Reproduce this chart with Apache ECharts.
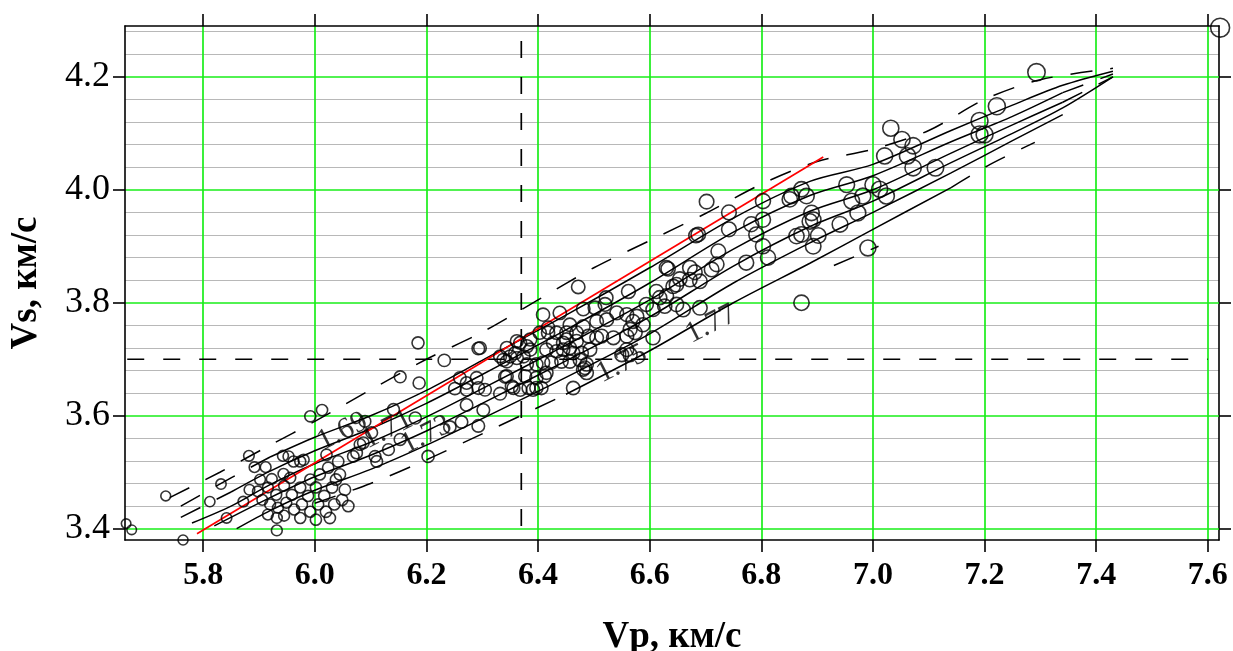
<!DOCTYPE html>
<html>
<head>
<meta charset="utf-8">
<script src="https://cdn.jsdelivr.net/npm/echarts@6/dist/echarts.min.js"></script>
<style>
html,body{margin:0;padding:0;background:#fff;}
#chart{width:1233px;height:651px;}
</style>
</head>
<body>
<div id="chart"></div>
<script>
// ---------- DATA ----------
const vpTicks = [5.8, 6.0, 6.2, 6.4, 6.6, 6.8, 7.0, 7.2, 7.4, 7.6];
const vsTicks = [3.4, 3.6, 3.8, 4.0, 4.2];
const vsMinorTicks = [3.44, 3.48, 3.52, 3.56, 3.64, 3.68, 3.72, 3.76, 3.84, 3.88, 3.92, 3.96, 4.04, 4.08, 4.12, 4.16, 4.24, 4.28];
const vpRange = [5.66, 7.62];
const vsRange = [3.38, 4.29];

const xTitle = 'Vp, км/с';
const yTitle = 'Vs, км/с';

// Measured samples (Vp, Vs)
const sampleVp = [
5.662,5.672,5.733,5.764,5.812,5.832,5.842,5.882,5.892,5.912,5.923,5.943,5.953,5.944,5.872,5.883,5.932,5.932,5.992,6.013,
6.153,6.185,6.187,6.180,6.141,6.090,6.102,6.069,6.042,6.081,6.111,6.132,6.153,6.045,6.060,5.962,5.974,5.992,
5.902,5.916,5.931,5.945,5.959,5.974,5.988,6.002,6.017,6.031,5.906,5.920,5.934,5.949,5.963,5.977,5.992,6.006,6.020,6.035,6.049,
5.916,5.945,5.974,6.002,6.027,5.956,6.009,6.024,6.038,5.898,6.054,
6.232,6.293,6.203,6.242,6.263,6.293,6.302,6.272,6.332,6.251,6.272,6.293,6.305,6.260,6.290,6.272,6.356,6.368,6.397,6.406,
6.463,6.344,6.350,6.362,6.374,6.380,6.397,6.409,6.412,6.397,6.377,6.418,6.433,6.451,6.469,6.427,6.445,6.463,6.478,6.484,
6.505,6.514,6.535,6.559,6.574,6.606,6.550,6.565,6.559,6.368,6.380,6.341,6.338,6.359,6.383,6.108,6.075,6.087,6.021,5.980,
6.472,6.633,6.681,6.687,6.654,6.672,6.642,6.648,6.690,6.562,6.522,6.612,6.618,6.594,6.606,6.627,6.648,6.660,6.690,
6.409,6.439,6.481,6.502,6.520,6.541,6.559,6.577,6.505,6.523,6.570,6.588,6.565,6.490,6.451,6.469,6.418,6.457,6.481,
6.386,6.362,6.403,6.344,6.332,6.386,6.424,6.442,6.457,6.475,6.487,6.493,6.445,6.457,6.415,6.433,6.481,6.487,6.415,
6.344,6.353,6.391,6.296,
6.702,6.742,6.683,6.742,6.723,6.720,6.711,6.672,6.630,6.773,6.782,6.791,6.803,6.803,6.803,6.812,6.851,6.854,6.872,6.881,
6.890,6.893,6.887,6.863,6.872,6.902,6.893,6.872,6.941,6.953,6.962,6.973,6.982,7.000,7.012,7.024,6.991,7.021,
7.293,7.222,7.191,7.191,7.200,7.032,7.052,7.072,7.062,7.072,7.112,7.622,6.630
];
const sampleVs = [
3.409,3.398,3.458,3.380,3.448,3.479,3.419,3.529,3.509,3.509,3.488,3.529,3.528,3.497,3.448,3.469,3.397,3.419,3.599,3.610,
3.669,3.729,3.658,3.596,3.611,3.590,3.570,3.528,3.519,3.549,3.519,3.540,3.558,3.496,3.440,3.519,3.519,3.487,
3.487,3.473,3.460,3.476,3.460,3.473,3.458,3.473,3.458,3.473,3.451,3.443,3.437,3.446,3.434,3.443,3.430,3.443,3.430,3.443,3.451,
3.425,3.423,3.419,3.416,3.419,3.490,3.496,3.508,3.487,3.466,3.469,
3.698,3.719,3.528,3.580,3.589,3.582,3.610,3.619,3.639,3.648,3.646,3.649,3.646,3.667,3.667,3.658,3.649,3.646,3.649,3.649,
3.649,3.696,3.705,3.702,3.705,3.691,3.691,3.694,3.670,3.667,3.670,3.747,3.747,3.747,3.747,3.729,3.729,3.711,3.711,3.685,
3.738,3.741,3.738,3.741,3.747,3.738,3.708,3.708,3.717,3.729,3.723,3.669,3.699,3.711,3.649,3.528,3.534,3.552,3.531,3.522,
3.828,3.860,3.854,3.921,3.842,3.841,3.829,3.832,3.838,3.820,3.809,3.820,3.809,3.797,3.788,3.794,3.797,3.788,3.791,
3.779,3.782,3.789,3.791,3.797,3.782,3.779,3.776,3.767,3.770,3.767,3.761,3.753,3.741,3.735,3.732,3.756,3.761,3.758,
3.735,3.732,3.747,3.720,3.705,3.717,3.694,3.696,3.696,3.699,3.691,3.717,3.717,3.720,3.717,3.714,3.682,3.676,3.676,
3.670,3.652,3.646,3.720,
3.979,3.960,3.919,3.930,3.891,3.868,3.859,3.862,3.862,3.871,3.939,3.921,3.980,3.947,3.900,3.880,3.983,3.989,4.001,3.989,
3.959,3.947,3.944,3.918,3.921,3.919,3.900,3.800,3.939,4.009,3.980,3.959,3.989,4.009,4.001,3.989,3.897,4.060,
4.208,4.148,4.122,4.098,4.098,4.109,4.089,4.078,4.060,4.039,4.039,4.287,3.812
];

// Regression line end points (Vp, Vs)
const regressionVp = [5.789, 6.911];
const regressionVs = [3.391, 4.058];

// Reference (dashed) values
const refVp = 6.37;
const refVs = 3.70;
const refVpSpan = [3.405, 4.282];   // Vs extent of the vertical reference
const refVsSpan = [5.664, 7.600];   // Vp extent of the horizontal reference

// Iso-lines (Vp, Vs) with solid index range
const isoLine0 = [[5.74,3.455],[5.83,3.50],[5.92,3.548],[6.0,3.59],[6.1,3.646],[6.2,3.70],[6.3,3.748],[6.4,3.805],[6.5,3.862],[6.6,3.91],[6.7,3.958],[6.8,4.01],[6.9,4.05],[7.0,4.072],[7.1,4.105],[7.2,4.16],[7.3,4.195],[7.43,4.215]];
const isoLine1 = [[5.76,3.44],[5.85,3.49],[5.92,3.527],[6.0,3.562],[6.1,3.60],[6.2,3.645],[6.3,3.698],[6.45,3.778],[6.6,3.862],[6.75,3.95],[6.887,4.015],[7.0,4.045],[7.14,4.105],[7.25,4.15],[7.34,4.185],[7.43,4.21]];
const isoLine2 = [[5.76,3.42],[5.85,3.465],[5.92,3.502],[6.0,3.538],[6.1,3.577],[6.2,3.622],[6.3,3.673],[6.45,3.752],[6.6,3.835],[6.75,3.925],[6.887,3.99],[7.0,4.025],[7.14,4.085],[7.25,4.13],[7.34,4.172],[7.43,4.205]];
const isoLine3 = [[5.78,3.41],[5.85,3.44],[5.92,3.478],[6.0,3.515],[6.1,3.553],[6.2,3.598],[6.3,3.648],[6.45,3.725],[6.6,3.805],[6.75,3.895],[6.887,3.962],[7.0,4.0],[7.14,4.065],[7.25,4.115],[7.34,4.155],[7.43,4.20]];
const isoLine4 = [[5.82,3.405],[5.92,3.455],[6.0,3.492],[6.1,3.53],[6.2,3.573],[6.3,3.622],[6.45,3.697],[6.6,3.775],[6.75,3.865],[6.887,3.935],[7.0,3.98],[7.14,4.048],[7.25,4.10],[7.34,4.145],[7.43,4.20]];
const isoLine5 = [[5.86,3.40],[5.92,3.432],[6.0,3.468],[6.1,3.505],[6.2,3.548],[6.3,3.595],[6.45,3.668],[6.6,3.745],[6.75,3.835],[6.887,3.906],[7.0,3.96],[7.14,4.03],[7.25,4.087],[7.34,4.133]];
const isoLine6 = [[6.0,3.445],[6.1,3.48],[6.2,3.522],[6.3,3.568],[6.45,3.638],[6.6,3.715],[6.75,3.80],[6.887,3.87],[7.0,3.93],[7.14,4.004],[7.21,4.045],[7.29,4.084]];
const isoLine7 = [[6.93,3.866],[7.01,3.900]];
const isoSolidIdx = [null, [2,15], [1,14], [0,14], [0,14], [0,13], [4,9], null];

// Iso-line labels
const isoLabelText = ['1.69', '1.71', '1.73', '1.75', '1.77'];
const isoLabelVp = [6.05, 6.13, 6.20, 6.55, 6.71];
const isoLabelVs = [3.572, 3.575, 3.566, 3.692, 3.762];

// ---------- CHART ----------
const SERIF = "'Liberation Serif', 'DejaVu Serif', serif";
const chart = echarts.init(document.getElementById('chart'), null, {renderer: 'canvas'});

const series = [];
const isoLines = [isoLine0, isoLine1, isoLine2, isoLine3, isoLine4, isoLine5, isoLine6, isoLine7];
const dashPattern = [22, 18];
function addLine(data, dashed, width) {
  series.push({
    type: 'line', data: data, xAxisIndex: 0, yAxisIndex: 0,
    showSymbol: false, symbol: 'none', smooth: 0.3, silent: true, z: 3,
    lineStyle: {color: '#000', width: width || 1.5, type: dashed ? dashPattern : 'solid'},
    clip: true
  });
}
isoLines.forEach((ln, k) => {
  const r = isoSolidIdx[k];
  if (!r) { addLine(ln, true); return; }
  if (r[0] > 0) addLine(ln.slice(0, r[0] + 1), true);
  addLine(ln.slice(r[0], r[1] + 1), false);
  if (r[1] < ln.length - 1) addLine(ln.slice(r[1]), true);
});

// reference dashed lines
series.push({
  type: 'line', data: [[refVp, refVpSpan[0]], [refVp, refVpSpan[1]]],
  showSymbol: false, symbol: 'none', silent: true, z: 2,
  lineStyle: {color: '#000', width: 1.7, type: [17, 19]}
});
series.push({
  type: 'line', data: [[refVsSpan[0], refVs], [refVsSpan[1], refVs]],
  showSymbol: false, symbol: 'none', silent: true, z: 2,
  lineStyle: {color: '#000', width: 1.7, type: [17, 19]}
});

// regression line
series.push({
  type: 'line', data: regressionVp.map((v, i) => [v, regressionVs[i]]),
  showSymbol: false, symbol: 'none', silent: true, z: 4,
  lineStyle: {color: '#ff0000', width: 1.7}
});

// samples
series.push({
  type: 'scatter',
  data: sampleVp.map((v, i) => [v, sampleVs[i]]),
  symbol: 'circle',
  symbolSize: d => 9.5 + (d[0] - vpRange[0]) * 4.8,
  itemStyle: {color: 'rgba(0,0,0,0)', borderColor: '#000', borderWidth: 1.6},
  clip: false, silent: true, z: 5
});

// iso labels
series.push({
  type: 'scatter',
  data: isoLabelText.map((t, i) => ({name: t, value: [isoLabelVp[i], isoLabelVs[i]]})),
  symbolSize: 0, silent: true, z: 6,
  label: {
    show: true, position: 'inside', formatter: p => p.name, rotate: 27,
    fontFamily: SERIF, fontSize: 30, color: '#000'
  }
});

const axisLineStyle = {color: '#000', width: 1.6};

chart.setOption({
  animation: false,
  backgroundColor: '#fff',
  grid: {left: 125, top: 26, right: 14, bottom: 111, containLabel: false, outerBoundsMode: 'none'},
  xAxis: [
    {
      type: 'value', position: 'bottom', min: vpRange[0], max: vpRange[1],
      axisLine: {show: true, onZero: false, lineStyle: axisLineStyle},
      axisTick: {show: true, customValues: vpTicks, length: 12, lineStyle: axisLineStyle},
      axisLabel: {show: true, customValues: vpTicks, formatter: v => v.toFixed(1), margin: 20,
        fontFamily: SERIF, fontSize: 32, fontWeight: 'bold', color: '#000'},
      splitLine: {show: true, lineStyle: {color: '#19ee19', width: 1.7}},
      name: xTitle, nameLocation: 'middle', nameGap: 79,
      nameTextStyle: {fontFamily: SERIF, fontSize: 37, fontWeight: 'bold', color: '#000'}
    },
    {
      type: 'value', position: 'top', min: vpRange[0], max: vpRange[1],
      axisLine: {show: true, onZero: false, lineStyle: axisLineStyle},
      axisTick: {show: true, customValues: vpTicks, length: 12, lineStyle: axisLineStyle},
      axisLabel: {show: false},
      splitLine: {show: false}
    }
  ],
  yAxis: [
    {
      type: 'value', position: 'left', min: vsRange[0], max: vsRange[1],
      axisLine: {show: true, onZero: false, lineStyle: axisLineStyle},
      axisTick: {show: true, customValues: vsTicks, length: 12, lineStyle: axisLineStyle},
      axisLabel: {show: true, customValues: vsTicks, formatter: v => v.toFixed(1), margin: 15,
        fontFamily: SERIF, fontSize: 36, color: '#000'},
      splitLine: {show: true, lineStyle: {color: '#19ee19', width: 1.7}},
      name: yTitle, nameLocation: 'middle', nameGap: 80,
      nameTextStyle: {fontFamily: SERIF, fontSize: 37, fontWeight: 'bold', color: '#000'},
      z: 1
    },
    {
      type: 'value', position: 'left', min: vsRange[0], max: vsRange[1],
      axisLine: {show: false},
      axisTick: {show: false, customValues: vsMinorTicks},
      axisLabel: {show: false},
      splitLine: {show: true, lineStyle: {color: '#b8b8b8', width: 1.2}},
      z: 0
    },
    {
      type: 'value', position: 'right', min: vsRange[0], max: vsRange[1],
      axisLine: {show: true, onZero: false, lineStyle: axisLineStyle},
      axisTick: {show: true, customValues: vsTicks, length: 12, lineStyle: axisLineStyle},
      axisLabel: {show: false},
      splitLine: {show: false}
    }
  ],
  series: series
});
</script>
</body>
</html>
